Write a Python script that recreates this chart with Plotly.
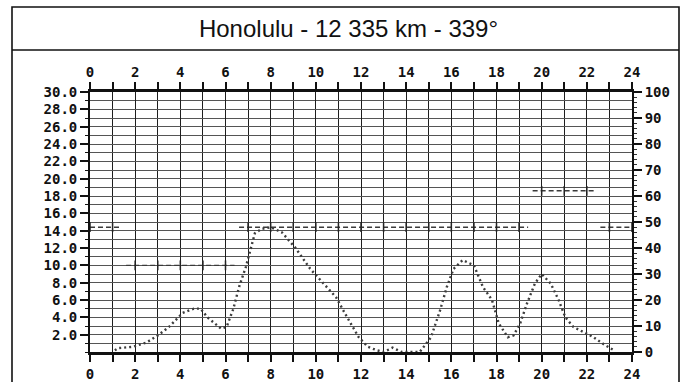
import plotly.graph_objects as go

# Hour-by-hour propagation curve (MHz, left scale)
curve_hours = [1.1, 1.25, 1.9, 2.5, 3.0, 3.5, 4.1, 4.6, 4.9, 5.2, 5.8, 6.05, 6.35, 6.6,
               6.9, 7.1, 7.3, 7.6, 8.0, 8.5, 9.1, 9.75, 10.3, 10.9, 11.3, 11.9, 12.3,
               12.7, 13.0, 13.4, 13.8, 14.6, 15.1, 15.5, 15.8, 16.1, 16.5, 17.0, 17.4,
               17.8, 18.1, 18.5, 18.75, 19.05, 19.35, 19.7, 20.0, 20.4, 20.75, 21.05,
               21.4, 21.85, 22.3, 22.8, 23.2]
curve_mhz = [0.2, 0.45, 0.6, 1.1, 1.9, 2.9, 4.5, 5.0, 5.0, 4.0, 2.7, 2.9, 5.0, 7.5,
             9.8, 11.7, 13.7, 14.2, 14.4, 13.8, 12.0, 9.6, 8.0, 6.3, 4.4, 1.7, 0.6,
             0.2, 0.0, 0.5, 0.0, 0.0, 1.7, 4.8, 7.5, 9.6, 10.6, 10.0, 7.5,
             6.0, 3.3, 1.7, 1.9, 3.3, 5.6, 7.9, 9.0, 7.9, 6.0, 4.0,
             2.9, 2.3, 1.7, 0.8, 0.2]

# Hourly level marks (MHz, left scale)
level_hours = list(range(25))
level_mhz = [14.4, 14.4, 10.0, 10.0, 10.0, 10.0, 10.0, 14.4, 14.4, 14.4, 14.4, 14.4,
             14.4, 14.4, 14.4, 14.4, 14.4, 14.4, 14.4, 14.4, 18.6, 18.6, 18.6, 14.4, 14.4]

# Axis labels
mhz_ticks = [2, 4, 6, 8, 10, 12, 14, 16, 18, 20, 22, 24, 26, 28, 30]
mhz_labels = [f"{v:.1f}" for v in mhz_ticks]
pct_ticks = [0, 10, 20, 30, 40, 50, 60, 70, 80, 90, 100]
hour_ticks = [0, 2, 4, 6, 8, 10, 12, 14, 16, 18, 20, 22, 24]

TITLE = "Honolulu - 12 335 km - 339°"

# Build the level line as short runs around each group of equal hourly values
seg_x, seg_y = [], []
run_start = 0
for i in range(1, len(level_hours) + 1):
    if i == len(level_hours) or level_mhz[i] != level_mhz[run_start]:
        x0 = max(level_hours[run_start] - 0.4, 0)
        x1 = min(level_hours[i - 1] + 0.4, 24)
        seg_x += [x0, x1, None]
        seg_y += [level_mhz[run_start], level_mhz[run_start], None]
        run_start = i

tick_font = dict(family="DejaVu Sans Mono", size=14, color="#111", weight="bold")

fig = go.Figure()

fig.add_trace(go.Scatter(
    x=seg_x, y=seg_y, mode="lines",
    line=dict(color="#3a3a3a", width=1.4, dash="5px,3px"),
    hoverinfo="skip", showlegend=False,
))
fig.add_trace(go.Scatter(
    x=level_hours, y=level_mhz, mode="markers",
    marker=dict(symbol="line-ns-open", size=7, color="#222",
                line=dict(color="#222", width=1.5)),
    hoverinfo="skip", showlegend=False,
))
fig.add_trace(go.Scatter(
    x=curve_hours, y=curve_mhz, mode="lines",
    line=dict(color="#3c3c3c", width=2.4, dash="2px,3px"),
    showlegend=False,
))
# Carrier trace for the top and right scales
fig.add_trace(go.Scatter(x=[None], y=[None], xaxis="x2", yaxis="y2",
                         mode="lines", showlegend=False, hoverinfo="skip"))

grid_h = "#555555"
grid_v = "#1e1e1e"

fig.update_layout(
    width=686, height=382,
    margin=dict(l=90, r=54, t=92, b=30, autoexpand=False),
    paper_bgcolor="white", plot_bgcolor="white",
    title=dict(text=TITLE, x=0.508, xref="container", xanchor="center",
               y=1 - 29 / 382, yref="container", yanchor="middle",
               font=dict(family="Liberation Sans", size=24, color="#111")),
    xaxis=dict(
        range=[0, 24], tickmode="array", tickvals=hour_ticks,
        ticktext=[str(h) for h in hour_ticks],
        ticks="outside", ticklen=7, tickwidth=1.5, tickcolor="#111",
        tickfont=tick_font,
        showline=True, linecolor="#111", linewidth=2.5, mirror=False,
        showgrid=True, gridcolor=grid_v, gridwidth=1,
        minor=dict(dtick=1, tick0=0, ticks="outside", ticklen=7, tickwidth=1.5,
                   tickcolor="#111", showgrid=True, gridcolor=grid_v, gridwidth=1),
        zeroline=False, fixedrange=True,
    ),
    xaxis2=dict(
        range=[0, 24], overlaying="x", side="top", tickmode="array",
        tickvals=hour_ticks, ticktext=[str(h) for h in hour_ticks],
        ticks="outside", ticklen=7, tickwidth=1.5, tickcolor="#111",
        tickfont=tick_font,
        showline=True, linecolor="#111", linewidth=2.5,
        showgrid=False,
        minor=dict(dtick=1, tick0=0, ticks="outside", ticklen=7, tickwidth=1.5,
                   tickcolor="#111"),
        zeroline=False, fixedrange=True,
    ),
    yaxis=dict(
        range=[0, 30], tickmode="array", tickvals=mhz_ticks, ticktext=mhz_labels,
        ticks="outside", ticklen=8, tickwidth=1.5, tickcolor="#111",
        tickfont=tick_font,
        showline=True, linecolor="#111", linewidth=1.8,
        showgrid=True, gridcolor=grid_h, gridwidth=1.3,
        minor=dict(dtick=1, tick0=0, ticks="outside", ticklen=3, tickwidth=1.2,
                   tickcolor="#111", showgrid=True, gridcolor=grid_h, gridwidth=1.3),
        zeroline=False, fixedrange=True,
    ),
    yaxis2=dict(
        range=[0, 100], overlaying="y", side="right", tickmode="array",
        tickvals=pct_ticks, ticktext=[str(p) for p in pct_ticks],
        ticks="outside", ticklen=8, tickwidth=1.5, tickcolor="#111",
        tickfont=tick_font,
        showline=True, linecolor="#111", linewidth=1.8,
        showgrid=False,
        minor=dict(dtick=2, tick0=0, ticks="outside", ticklen=3, tickwidth=1.2,
                   tickcolor="#333"),
        zeroline=False, fixedrange=True,
    ),
)

# Frame around the title and chart
px_x = lambda p: (p - 90) / 542
px_y = lambda p: (352 - p) / 260
frame = dict(color="#111", width=1.6)
fig.add_shape(type="rect", xref="paper", yref="paper",
              x0=px_x(12), x1=px_x(679), y0=px_y(400), y1=px_y(7), line=frame)
fig.add_shape(type="line", xref="paper", yref="paper",
              x0=px_x(12), x1=px_x(679), y0=px_y(50), y1=px_y(50), line=frame)

fig.write_html("out.html")
